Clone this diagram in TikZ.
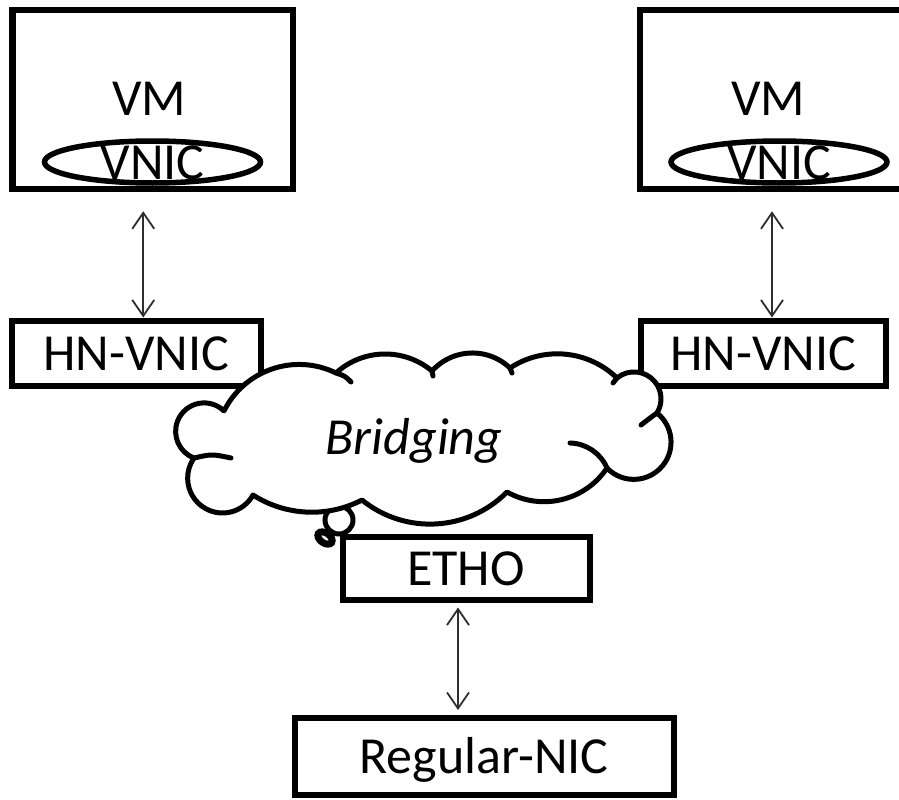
\documentclass[tikz,border=0pt]{standalone}
\usepackage{fontspec}
\setmainfont{Carlito}
\usetikzlibrary{arrows.meta,shapes.geometric}

% circle arc from A through P to B: #1 name, A=(#2,#3), P=(#4,#5), B=(#6,#7)
\newcommand\lobecalc[7]{%
  \edef\lbx{\fpeval{(#6)-(#2)}}%
  \edef\lby{\fpeval{(#7)-(#3)}}%
  \edef\lcx{\fpeval{(#4)-(#2)}}%
  \edef\lcy{\fpeval{(#5)-(#3)}}%
  \edef\ld{\fpeval{2*((\lbx)*(\lcy)-(\lby)*(\lcx))}}%
  \edef\lux{\fpeval{((\lcy)*((\lbx)^2+(\lby)^2)-(\lby)*((\lcx)^2+(\lcy)^2))/(\ld)}}%
  \edef\luy{\fpeval{((\lbx)*((\lcx)^2+(\lcy)^2)-(\lcx)*((\lbx)^2+(\lby)^2))/(\ld)}}%
  \edef\laA{\fpeval{atand(-(\luy),-(\lux))}}%
  \edef\laP{\fpeval{atand((\lcy)-(\luy),(\lcx)-(\lux))}}%
  \edef\laB{\fpeval{atand((\lby)-(\luy),(\lbx)-(\lux))}}%
  \edef\ldP{\fpeval{(\laP)-(\laA)-360*floor(((\laP)-(\laA))/360)}}%
  \edef\ldB{\fpeval{(\laB)-(\laA)-360*floor(((\laB)-(\laA))/360)}}%
  \expandafter\edef\csname LS#1\endcsname{\fpeval{round(\laA,4)}}%
  \expandafter\edef\csname LE#1\endcsname{\fpeval{round(((\ldP)<(\ldB))?((\laA)+(\ldB)):((\laA)+(\ldB)-360),4)}}%
  \expandafter\edef\csname LR#1\endcsname{\fpeval{round(sqrt((\lux)^2+(\luy)^2),4)}}%
}
\newcommand\bigf{\fontsize{52pt}{60pt}\selectfont}

\lobecalc{a}{224}{411}{275}{368}{336}{373}
\lobecalc{b}{336}{373}{384}{354}{432}{371}
\lobecalc{c}{432}{371}{471}{353}{510}{368}
\lobecalc{d}{510}{368}{563}{354}{617}{378}
\lobecalc{e}{617}{378}{661}{398}{657}{413}
\lobecalc{f}{657}{413}{671}{440}{607}{468}
\lobecalc{g}{607}{468}{560}{500}{507}{492}
\lobecalc{h}{507}{492}{435}{524}{362}{500}
\lobecalc{i}{362}{500}{305}{512}{253}{495}
\lobecalc{j}{253}{495}{188}{473}{194}{458}
\lobecalc{k}{194}{458}{176}{436}{224}{411}
\lobecalc{s}{570}{443}{596}{453}{607}{468}

\begin{document}
\begin{tikzpicture}[x=1pt,y=-1pt,
  lbl/.style={inner sep=0pt, text height=34pt, text depth=0pt, font=\bigf},
  box/.style={draw, line width=6pt, inner sep=0pt, text height=34pt, text depth=0pt, font=\bigf},
  vmbox/.style={draw, line width=6.5pt, inner sep=0pt, minimum height=179pt},
  nic/.style={draw, ellipse, line width=5.5pt, inner sep=0pt, minimum width=216pt, minimum height=42pt},
  arr/.style={draw=black!82, line width=1.8pt,
    {Straight Barb[length=16pt,width=22pt]}-{Straight Barb[length=16pt,width=22pt]}},
  cloudline/.style={draw, line width=5pt, fill=white, line join=round, line cap=round},
  strokeline/.style={draw, line width=5pt, line cap=round}]
\useasboundingbox (0,0) rectangle (899,800);

% VM boxes
\node[vmbox, minimum width=280.5pt] (vm1) at (152.75,99.5) {};
\node[vmbox, minimum width=280pt] (vm2) at (780,99.5) {};
\node[lbl] (vmt1) at (149,98.5) {VM};
\node[lbl] (vmt2) at (768,98.5) {VM};
\node[nic, label={[lbl]center:VNIC}] (vnic1) at (152.5,162) {};
\node[nic, label={[lbl]center:VNIC}] (vnic2) at (779,162) {};

% HN-VNIC boxes
\node[box, minimum width=249pt, minimum height=65pt] (hn1) at (136,353) {HN-VNIC};
\node[box, minimum width=245pt, minimum height=65pt] (hn2) at (763,353) {HN-VNIC};

% ETHO and Regular-NIC
\node[box, minimum width=247pt, minimum height=63pt] (etho) at (466,568.5) {ETHO};
\node[box, minimum width=379pt, minimum height=77pt] (reg) at (484,756.5) {Regular-NIC};

% arrows
\draw[arr, shorten <=19pt] ([xshift=-9.5pt]vm1.south) -- ([xshift=-9.5pt]vm1.south |- hn1.north);
\draw[arr, shorten <=19pt] ([xshift=-8pt]vm2.south) -- ([xshift=-8pt]vm2.south |- hn2.north);
\draw[arr, shorten <=4.5pt, shorten >=5pt] ([xshift=-8pt]etho.south) -- ([xshift=-8pt]etho.south |- reg.north);

% thought bubbles
\draw[line width=5pt, fill=white] (339,520) circle [radius=14];
\draw[line width=7pt, fill=white, rotate around={-35:(325,538)}] (325,538) ellipse [x radius=8, y radius=5];

% cloud
\draw[cloudline] (224,411)
  arc[start angle=\LSa, end angle=\LEa, radius=\LRa]
  arc[start angle=\LSb, end angle=\LEb, radius=\LRb]
  arc[start angle=\LSc, end angle=\LEc, radius=\LRc]
  arc[start angle=\LSd, end angle=\LEd, radius=\LRd]
  arc[start angle=\LSe, end angle=\LEe, radius=\LRe]
  arc[start angle=\LSf, end angle=\LEf, radius=\LRf]
  arc[start angle=\LSg, end angle=\LEg, radius=\LRg]
  arc[start angle=\LSh, end angle=\LEh, radius=\LRh]
  arc[start angle=\LSi, end angle=\LEi, radius=\LRi]
  arc[start angle=\LSj, end angle=\LEj, radius=\LRj]
  arc[start angle=\LSk, end angle=\LEk, radius=\LRk]
  -- cycle;
% inner strokes of the cloud
\draw[strokeline] (570,443) arc[start angle=\LSs, end angle=\LEs, radius=\LRs];
\draw[strokeline] (336,373) .. controls (345,376) .. (351,382);
\draw[strokeline] (657,413) .. controls (650,418) .. (641,425);
\draw[strokeline] (194,458) .. controls (212,454) .. (231,458);
\draw[strokeline] (432,371) -- (433,376);
\draw[strokeline] (510,368) -- (512,373);
\draw[strokeline] (617,378) -- (613,383);

\node[lbl, font=\bigf\itshape] (bridging) at (414,437) {Bridging};
\end{tikzpicture}
\end{document}
